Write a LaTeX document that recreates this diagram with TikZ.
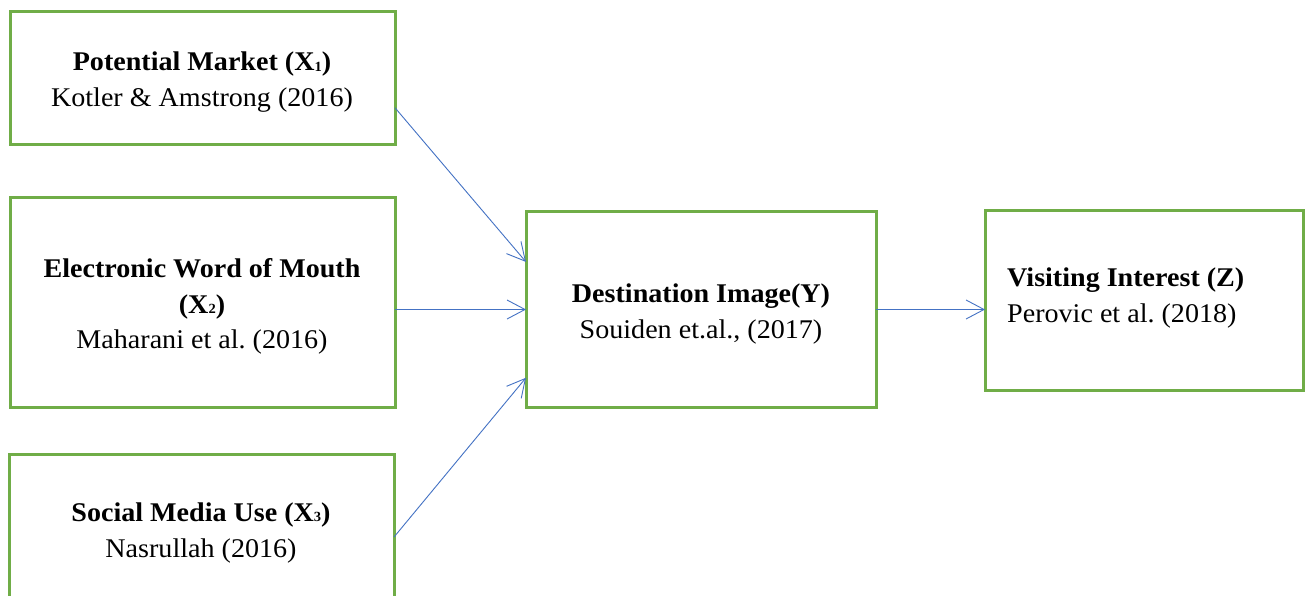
\documentclass[tikz,border=0pt]{standalone}
\usepackage{fontspec}
\setmainfont[FakeStretch=1.04]{Liberation Serif}
\usetikzlibrary{arrows.meta,calc}
\definecolor{boxgreen}{HTML}{70AD47}
\definecolor{arrowblue}{HTML}{4472C4}
\newcommand{\sbx}[1]{\raisebox{-0.5pt}{\fontsize{14}{14}\selectfont #1}}
\frenchspacing
\begin{document}
\begin{tikzpicture}[x=1pt,y=-1pt,
  box/.style={draw=boxgreen, line width=3pt, inner sep=0pt, outer sep=0pt},
  txt/.style={font=\fontsize{27}{36}\selectfont, align=center, anchor=base, inner sep=0pt},
  conn/.style={draw=arrowblue, line width=0.9pt, -{Straight Barb[length=18pt,width=19pt,line width=0.9pt]}}]
\useasboundingbox (0,0) rectangle (1306,596);
\clip (0,0) rectangle (1306,596);
\fill[white] (0,0) rectangle (1306,596);
% boxes
\node[box, minimum width=385pt, minimum height=133pt] (x1) at (202.5,78.5) {};
\node[box, minimum width=385pt, minimum height=209pt] (x2) at (202.5,302.5) {};
\node[box, minimum width=385pt, minimum height=151pt] (x3) at (201.5,529.5) {};
\node[box, minimum width=350pt, minimum height=195pt] (y) at (701,309.5) {};
\node[box, minimum width=318pt, minimum height=179pt] (z) at (1144,300.5) {};
% texts (anchor base = baseline of the last line)
\node[txt] (t1) at (202,107) {\textbf{Potential Market (X\sbx{1})}\\Kotler \& Amstrong (2016)};
\node[txt] (t2) at (202,348) {\textbf{Electronic Word of Mouth}\\\textbf{(X\sbx{2})}\\[-1pt]Maharani et al. (2016)};
\node[txt] (t3) at (201,557) {\textbf{Social Media Use (X\sbx{3})}\\Nasrullah (2016)};
\node[txt] (ty) at (701,338) {\textbf{Destination Image(Y)}\\Souiden et.al., (2017)};
\node[txt, align=left, anchor=base west] (tz) at (1007,322) {\textbf{Visiting Interest (Z)}\\Perovic et al. (2018)};
% connectors
\draw[conn] ($(x1.north east)!0.72!(x1.south east)$) -- ($(y.north west)!0.256!(y.south west)$);
\draw[conn] (x2.east |- y.west) -- (y.west);
\draw[conn] ($(x3.north east)!0.55!(x3.south east)$) -- ($(y.north west)!0.85!(y.south west)$);
\draw[conn] (y.east) -- (y.east -| z.west);
\end{tikzpicture}
\end{document}
